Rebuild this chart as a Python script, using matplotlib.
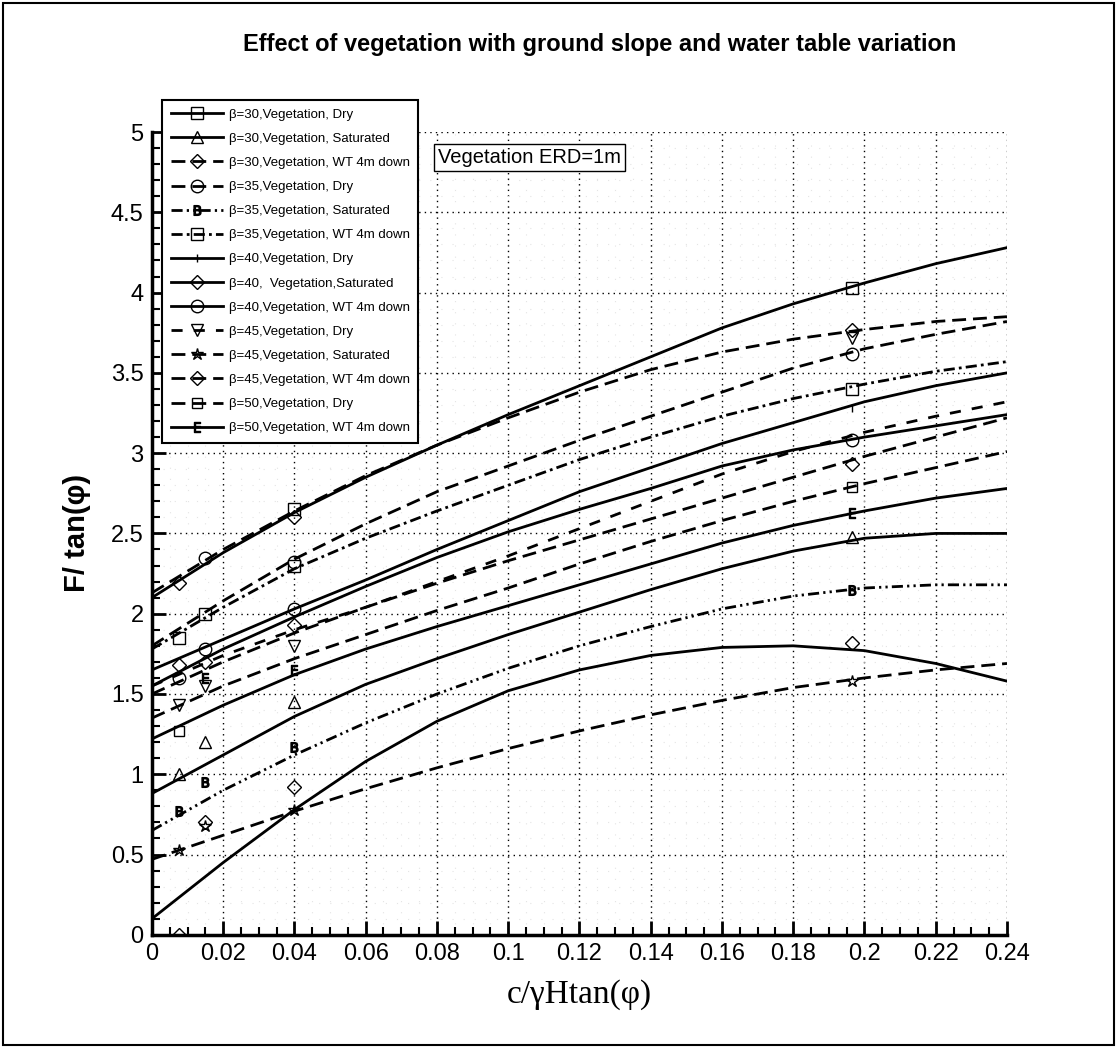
import numpy as np
import matplotlib
matplotlib.use('Agg')
from matplotlib import pyplot as plt
from matplotlib.lines import Line2D
from matplotlib.patches import Rectangle
from matplotlib.ticker import MultipleLocator

x_curve = [0, 0.02, 0.04, 0.06, 0.08, 0.10, 0.12, 0.14, 0.16, 0.18, 0.20, 0.22, 0.24]

b30_dry = [2.10, 2.38, 2.63, 2.85, 3.05, 3.24, 3.42, 3.60, 3.78, 3.93, 4.06, 4.18, 4.28]
b30_sat = [0.88, 1.12, 1.36, 1.56, 1.72, 1.87, 2.01, 2.15, 2.28, 2.39, 2.47, 2.50, 2.50]
b30_wt = [2.13, 2.40, 2.64, 2.86, 3.05, 3.22, 3.38, 3.52, 3.63, 3.71, 3.77, 3.82, 3.85]
b35_dry = [1.80, 2.08, 2.34, 2.56, 2.76, 2.92, 3.08, 3.23, 3.38, 3.53, 3.65, 3.74, 3.82]
b35_sat = [0.65, 0.90, 1.12, 1.32, 1.50, 1.66, 1.80, 1.92, 2.03, 2.11, 2.16, 2.18, 2.18]
b35_wt = [1.78, 2.04, 2.28, 2.47, 2.64, 2.80, 2.96, 3.10, 3.23, 3.34, 3.43, 3.51, 3.57]
b40_dry = [1.65, 1.84, 2.03, 2.21, 2.40, 2.58, 2.76, 2.91, 3.06, 3.19, 3.32, 3.42, 3.50]
b40_sat = [0.10, 0.45, 0.78, 1.08, 1.33, 1.52, 1.65, 1.74, 1.79, 1.80, 1.77, 1.69, 1.58]
b40_wt = [1.55, 1.78, 1.98, 2.17, 2.35, 2.51, 2.65, 2.78, 2.92, 3.02, 3.10, 3.17, 3.24]
b45_dry = [1.55, 1.74, 1.90, 2.04, 2.20, 2.36, 2.53, 2.70, 2.87, 3.01, 3.13, 3.23, 3.32]
b45_sat = [0.47, 0.62, 0.77, 0.91, 1.04, 1.16, 1.27, 1.37, 1.46, 1.54, 1.60, 1.65, 1.69]
b45_wt = [1.50, 1.70, 1.88, 2.04, 2.19, 2.33, 2.46, 2.59, 2.72, 2.85, 2.98, 3.10, 3.22]
b50_dry = [1.35, 1.55, 1.72, 1.87, 2.02, 2.16, 2.31, 2.45, 2.58, 2.70, 2.81, 2.91, 3.01]
b50_wt = [1.22, 1.43, 1.62, 1.78, 1.92, 2.05, 2.18, 2.31, 2.44, 2.55, 2.64, 2.72, 2.78]

# data point markers (x, y)
m_b30_dry = ([0.04, 0.1965], [2.65, 4.03])
m_b30_sat = ([0.0075, 0.015, 0.04, 0.1965], [1.00, 1.20, 1.45, 2.48])
m_b30_wt = ([0.0075, 0.04, 0.1965], [2.19, 2.60, 3.77])
m_b35_dry = ([0.015, 0.04, 0.1965], [2.35, 2.32, 3.62])
m_b35_sat = ([0.0075, 0.015, 0.04, 0.1965], [0.77, 0.95, 1.17, 2.15])
m_b35_wt = ([0.0075, 0.015, 0.04, 0.1965], [1.85, 2.00, 2.30, 3.40])
m_b40_dry = ([0.1965], [3.28])
m_b40_sat = ([0.0075, 0.015, 0.04, 0.1965], [0.00, 0.70, 0.92, 1.82])
m_b40_wt = ([0.0075, 0.015, 0.04, 0.1965], [1.60, 1.78, 2.03, 3.08])
m_b45_dry = ([0.0075, 0.015, 0.04, 0.1965], [1.43, 1.55, 1.80, 3.72])
m_b45_sat = ([0.0075, 0.015, 0.04, 0.1965], [0.53, 0.68, 0.78, 1.58])
m_b45_wt = ([0.0075, 0.015, 0.04, 0.1965], [1.68, 1.70, 1.93, 2.93])
m_b50_dry = ([0.0075, 0.1965], [1.27, 2.79])
m_b50_wt = ([0.015, 0.04, 0.1965], [1.60, 1.65, 2.63])

labels = [
    'β=30,Vegetation, Dry',
    'β=30,Vegetation, Saturated',
    'β=30,Vegetation, WT 4m down',
    'β=35,Vegetation, Dry',
    'β=35,Vegetation, Saturated',
    'β=35,Vegetation, WT 4m down',
    'β=40,Vegetation, Dry',
    'β=40,  Vegetation,Saturated',
    'β=40,Vegetation, WT 4m down',
    'β=45,Vegetation, Dry',
    'β=45,Vegetation, Saturated',
    'β=45,Vegetation, WT 4m down',
    'β=50,Vegetation, Dry',
    'β=50,Vegetation, WT 4m down',
]

DASH = (0, (5, 2.5))
DASH_SPARSE = (0, (4, 4))
DASH_DOT = (0, (4, 1.5, 1, 1.5))
DASH_DOT_DOT = (0, (4, 1.5, 0.8, 1.5, 0.8, 1.5))


def main():
    plt.rcParams['font.family'] = ['Liberation Sans', 'DejaVu Sans']

    series = [
        (b30_dry, m_b30_dry, '-', 's', 8),
        (b30_sat, m_b30_sat, '-', '^', 8),
        (b30_wt, m_b30_wt, DASH, 'D', 7),
        (b35_dry, m_b35_dry, DASH, 'o', 9),
        (b35_sat, m_b35_sat, DASH_DOT_DOT, r'$\mathsf{B}$', 7),
        (b35_wt, m_b35_wt, DASH_DOT, 's', 8),
        (b40_dry, m_b40_dry, '-', '|', 6),
        (b40_sat, m_b40_sat, '-', 'D', 7),
        (b40_wt, m_b40_wt, '-', 'o', 9),
        (b45_dry, m_b45_dry, DASH_SPARSE, 'v', 8),
        (b45_sat, m_b45_sat, DASH, '*', 9),
        (b45_wt, m_b45_wt, DASH, 'D', 7),
        (b50_dry, m_b50_dry, DASH, 's', 7),
        (b50_wt, m_b50_wt, '-', r'$\mathsf{E}$', 7),
    ]

    fig = plt.figure(figsize=(11.17, 10.48), dpi=100)
    ax = fig.add_axes([0.136, 0.108, 0.7655, 0.766])

    handles = []
    for (ys, (mx, my), ls, mk, ms), lab in zip(series, labels):
        ax.plot(x_curve, ys, color='black', ls=ls, lw=2.0)
        ax.plot(mx, my, ls='none', marker=mk, ms=ms, mfc='none',
                mec='black', mew=1.0)
        handles.append(Line2D([], [], color='black', ls=ls, lw=2.0,
                              marker=mk, ms=ms, mfc='none', mec='black',
                              mew=1.0))

    ax.set_xlim(0, 0.24)
    ax.set_ylim(0, 5)
    ax.xaxis.set_minor_locator(MultipleLocator(0.005))
    ax.yaxis.set_minor_locator(MultipleLocator(0.1))
    ax.set_xticks(np.arange(0, 0.2401, 0.02))
    ax.set_xticklabels(['0', '0.02', '0.04', '0.06', '0.08', '0.1', '0.12',
                        '0.14', '0.16', '0.18', '0.2', '0.22', '0.24'])
    ax.set_yticks(np.arange(0, 5.01, 0.5))
    ax.set_yticklabels(['0', '0.5', '1', '1.5', '2', '2.5', '3', '3.5',
                        '4', '4.5', '5'])

    ax.grid(which='major', color='black', ls=(0, (1, 3)), lw=1.0)
    ax.grid(which='minor', color='#e4e4e4', ls=(0, (1, 9)), lw=0.8)
    ax.set_axisbelow(True)

    for side in ['top', 'right']:
        ax.spines[side].set_visible(False)
    for side in ['left', 'bottom']:
        ax.spines[side].set_linewidth(2.5)
    ax.tick_params(which='major', direction='in', length=10, width=2,
                   labelsize=17, pad=6)
    ax.tick_params(which='minor', direction='in', length=6, width=1.5)

    ax.set_xlabel('c/γHtan(φ)', family='Liberation Serif', fontsize=24,
                  labelpad=10)
    ax.set_ylabel('F/ tan(φ)', fontsize=21, fontweight='bold', labelpad=14)

    fig.text(0.537, 0.958, 'Effect of vegetation with ground slope and water table variation',
             ha='center', va='center', fontsize=17, fontweight='bold')

    ax.text(0.106, 4.84, 'Vegetation ERD=1m', ha='center', va='center',
            fontsize=14.5,
            bbox=dict(boxstyle='square,pad=0.2', fc='white', ec='black', lw=1))

    leg = fig.legend(handles, labels, loc='upper left',
                     bbox_to_anchor=(162 / 1117, 1 - 100 / 1048),
                     fontsize=9.5, frameon=True, fancybox=False,
                     handlelength=4.0, handletextpad=0.4, labelspacing=0.9,
                     borderpad=0.65, borderaxespad=0, framealpha=1)
    leg.get_frame().set_edgecolor('black')
    leg.get_frame().set_linewidth(1.5)

    fig.patches.append(Rectangle((0.003, 0.003), 0.994, 0.994,
                                 transform=fig.transFigure, fill=False,
                                 ec='black', lw=1.5))

    fig.savefig('out.png', dpi=100)


if __name__ == "__main__":
    main()
